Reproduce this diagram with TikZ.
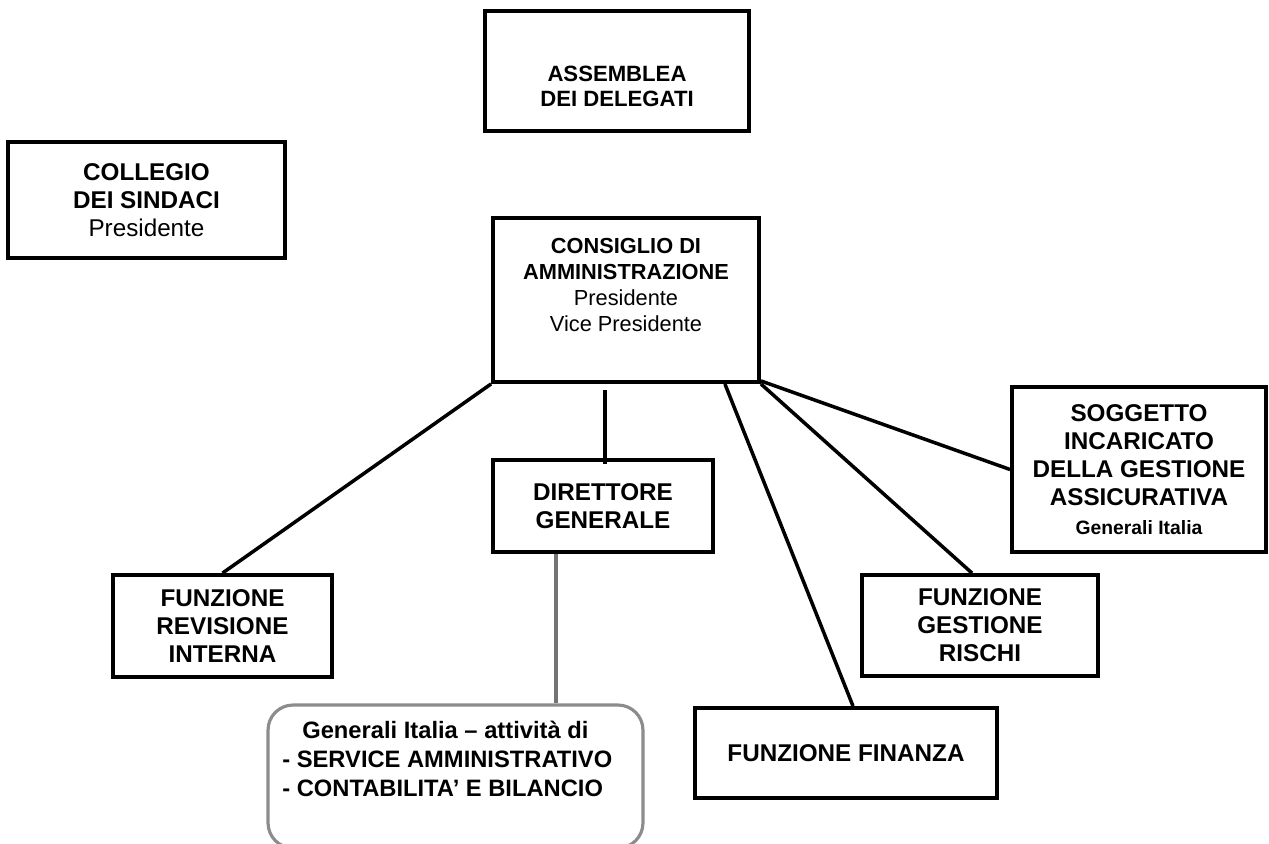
\documentclass[tikz,border=0pt]{standalone}
\usepackage{fontspec}
\setmainfont{Liberation Sans}
\usepackage{tikz}
\usetikzlibrary{positioning,calc}
\tikzset{
  orgbox/.style={draw=black, line width=2.2pt, inner sep=0pt, align=center, font=\fontsize{13.8}{16}\selectfont\bfseries},
  orgtext/.style={inner sep=0pt, align=center, font=\fontsize{13.8}{16}\selectfont\bfseries},
  link/.style={black, line width=2pt},
  greylink/.style={black!55, line width=2pt}
}

\begin{document}
\begin{tikzpicture}[x=0.02cm, y=-0.02cm]
\useasboundingbox (0,0) rectangle (1269,843);

\node [orgbox, minimum width=5.28cm, minimum height=2.4cm] (ass) at (617,71) {};
\node [orgtext, font=\fontsize{12.6}{14.2}\selectfont\bfseries] (asstext) at (617,86) {ASSEMBLEA\\DEI DELEGATI};

\node [orgbox, minimum width=5.54cm, minimum height=2.32cm] (col) at (146.5,200) {COLLEGIO\\DEI SINDACI\\{\mdseries Presidente}};

\node [orgbox, minimum width=5.32cm, minimum height=3.28cm] (cda) at (626,300) {};
\node [orgtext, font=\fontsize{12.4}{14.7}\selectfont\bfseries] (cdatext) at (626,285) {CONSIGLIO DI\\AMMINISTRAZIONE\\{\mdseries Presidente}\\{\mdseries Vice Presidente}};

\node [orgbox, minimum width=4.4cm, minimum height=1.84cm] (dir) at (603,506) {DIRETTORE\\GENERALE};
\node [orgbox, minimum width=4.38cm, minimum height=2.04cm] (rev) at (222.5,626) {FUNZIONE\\REVISIONE\\INTERNA};
\node [orgbox, minimum width=4.72cm, minimum height=2.02cm] (ris) at (980,625.5) {FUNZIONE\\GESTIONE\\RISCHI};
\node [orgbox, minimum width=6.04cm, minimum height=1.8cm] (fin) at (846,753) {FUNZIONE FINANZA};
\node [orgbox, minimum width=5.08cm, minimum height=3.3cm] (sog) at (1139,469.5) {SOGGETTO\\INCARICATO\\DELLA GESTIONE\\ASSICURATIVA\\{\fontsize{11}{13}\selectfont Generali Italia}};

\node [orgbox, draw=black!45, line width=1.8pt, rounded corners=0.5cm, minimum width=7.5cm, minimum height=2.86cm] (gen) at (455.5,776.5) {};
\node [orgtext, align=left, anchor=north west, font=\fontsize{13.5}{16.4}\selectfont\bfseries] (gentext) at (282,721) {\hspace*{0.4cm}Generali Italia – attività di\\- SERVICE AMMINISTRATIVO\\- CONTABILITA’ E BILANCIO};

\draw [link] (cda.south west) -- (rev.north);
\draw [link] ($(cda.south -| dir.north)+(2,6)$) -- ($(dir.north)+(2,6)$);
\draw [link] ([xshift=-0.72cm]cda.south east) -- ([xshift=0.14cm]fin.north);
\draw [link] (cda.south east) -- ([xshift=-0.16cm]ris.north);
\draw [link] ([yshift=0.06cm]cda.south east) -- (sog.west);
\draw [greylink] ($(dir.south)+(-47,0)$) -- ($(dir.south |- gen.north)+(-47,0)$);
\end{tikzpicture}
\end{document}
